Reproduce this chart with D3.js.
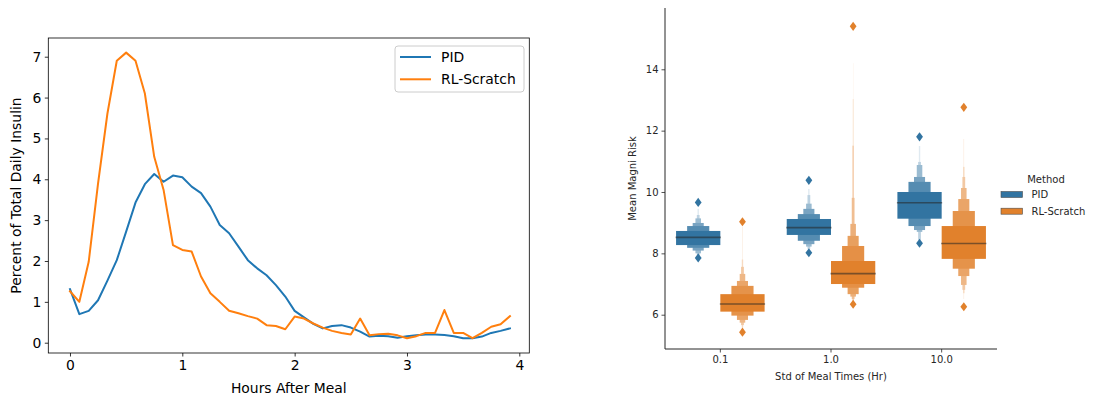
<!DOCTYPE html>
<html lang="en">
<head>
<meta charset="utf-8">
<title>Insulin profile and Magni risk</title>
<script src="https://cdn.jsdelivr.net/npm/d3@7"></script>
<style>
  body { margin: 0; background: #fff; }
  svg { font-family: "DejaVu Sans", sans-serif; }
</style>
</head>
<body>
<div id="bod"></div>
<script>
// ---- left chart data: percent of total daily insulin, every 5 minutes after meal
const minutesAfterMeal = [0, 5, 10, 15, 20, 25, 30, 35, 40, 45, 50, 55,
  60, 65, 70, 75, 80, 85, 90, 95, 100, 105, 110, 115,
  120, 125, 130, 135, 140, 145, 150, 155, 160, 165, 170, 175,
  180, 185, 190, 195, 200, 205, 210, 215, 220, 225, 230, 235]
const pidInsulin = [1.31, 0.70, 0.78, 1.04, 1.52, 2.02, 2.72, 3.43, 3.88, 4.13, 3.94, 4.09,
  4.05, 3.82, 3.66, 3.33, 2.88, 2.68, 2.35, 2.02, 1.82, 1.65, 1.41, 1.13,
  0.78, 0.62, 0.46, 0.35, 0.41, 0.43, 0.37, 0.27, 0.15, 0.17, 0.16, 0.12,
  0.16, 0.18, 0.20, 0.20, 0.19, 0.16, 0.11, 0.11, 0.15, 0.24, 0.29, 0.35]
const rlInsulin = [1.26, 1.00, 1.98, 3.90, 5.61, 6.90, 7.10, 6.90, 6.10, 4.55, 3.74, 2.39,
  2.27, 2.23, 1.62, 1.21, 1.00, 0.78, 0.72, 0.65, 0.59, 0.43, 0.41, 0.33,
  0.64, 0.59, 0.47, 0.37, 0.29, 0.24, 0.20, 0.59, 0.18, 0.21, 0.22, 0.18,
  0.11, 0.16, 0.24, 0.24, 0.80, 0.24, 0.24, 0.11, 0.24, 0.39, 0.45, 0.65]
const leftSeries = ["PID", "RL-Scratch"]
const leftXTicks = [0, 1, 2, 3, 4]
const leftYTicks = [0, 1, 2, 3, 4, 5, 6, 7]

// ---- right chart data: letter-value (boxen) summaries of mean Magni risk
const stdCategories = ["0.1", "1.0", "10.0"]
const methods = ["PID", "RL-Scratch"]
const pidMedians = [8.52, 8.84, 9.65]
const rlMedians = [6.35, 7.34, 8.32]
// letter-value boxes from the innermost outward: [low, high]
const pidLevels = [
  [[8.27, 8.73], [8.18, 8.89], [8.09, 8.99], [8.00, 9.14], [7.93, 9.25], [7.90, 9.45]],
  [[8.60, 9.12], [8.41, 9.28], [8.30, 9.45], [8.22, 9.62], [8.15, 9.90], [8.10, 10.1]],
  [[9.13, 10.00], [8.89, 10.33], [8.76, 10.49], [8.70, 10.88], [8.44, 10.98], [8.40, 11.50]]
]
const rlLevels = [
  [[6.10, 6.67], [5.97, 6.94], [5.83, 7.10], [5.74, 7.33], [5.66, 7.56], [5.58, 7.80], [5.52, 8.87]],
  [[7.00, 7.75], [6.88, 8.24], [6.67, 8.57], [6.59, 8.96], [6.51, 9.81], [6.45, 11.51], [6.42, 13.03], [6.40, 14.20]],
  [[7.82, 8.89], [7.50, 9.38], [7.26, 9.77], [6.97, 10.13], [6.81, 10.49], [6.70, 10.82], [6.51, 11.73]]
]
const pidOutliers = [[7.85, 9.66], [8.02, 10.38], [8.33, 11.80]]
const rlOutliers = [[5.43, 9.03], [6.34, 15.40], [6.26, 12.76]]
const rightYTicks = [6, 8, 10, 12, 14]

const lineColors = ["#1f77b4", "#ff7f0e"]
const boxColors = ["#3274a1", "#e1812c"]

const svg = d3.select("#bod").append("svg")
  .attr("width", 1094)
  .attr("height", 399)

// ================= left chart =================
const L = {left: 48.3, right: 529.3, top: 38, bottom: 353}
const xL = d3.scaleLinear().domain([-0.193, 4.089]).range([L.left, L.right])
const yL = d3.scaleLinear().domain([-0.252, 7.458]).range([L.bottom, L.top])

const gl = svg.append("g")

gl.append("g")
  .attr("transform", "translate(0," + L.bottom + ")")
  .call(d3.axisBottom(xL).tickValues(leftXTicks).tickFormat(d3.format("d")).tickSizeOuter(0).tickSize(3.5).tickPadding(3.5))
  .call(a => a.select(".domain").remove())
  .call(a => a.selectAll("text").attr("font-size", 13.9).attr("fill", "#000").attr("font-family", "DejaVu Sans"))
  .call(a => a.selectAll("line").attr("stroke", "#000").attr("stroke-width", 0.8))

gl.append("g")
  .attr("transform", "translate(" + L.left + ",0)")
  .call(d3.axisLeft(yL).tickValues(leftYTicks).tickFormat(d3.format("d")).tickSizeOuter(0).tickSize(3.5).tickPadding(3.5))
  .call(a => a.select(".domain").remove())
  .call(a => a.selectAll("text").attr("font-size", 13.9).attr("fill", "#000").attr("font-family", "DejaVu Sans"))
  .call(a => a.selectAll("line").attr("stroke", "#000").attr("stroke-width", 0.8))

const line = d3.line()
  .x((d, i) => xL(minutesAfterMeal[i] / 60))
  .y(d => yL(d))

const clip = svg.append("defs").append("clipPath").attr("id", "clipL")
clip.append("rect").attr("x", L.left).attr("y", L.top).attr("width", L.right - L.left).attr("height", L.bottom - L.top)

gl.append("g").attr("clip-path", "url(#clipL)")
  .selectAll("path.series")
  .data([pidInsulin, rlInsulin])
  .join("path")
    .attr("class", "series")
    .attr("d", line)
    .attr("fill", "none")
    .attr("stroke", (d, i) => lineColors[i])
    .attr("stroke-width", 2)
    .attr("stroke-linejoin", "round")
    .attr("stroke-linecap", "square")

// frame
gl.append("rect")
  .attr("x", L.left).attr("y", L.top)
  .attr("width", L.right - L.left).attr("height", L.bottom - L.top)
  .attr("fill", "none").attr("stroke", "#000").attr("stroke-width", 0.8)

// legend
const lg = gl.append("g")
lg.append("rect")
  .attr("x", 395).attr("y", 46).attr("width", 129).attr("height", 46)
  .attr("rx", 3).attr("fill", "#fff").attr("fill-opacity", 0.8)
  .attr("stroke", "#cccccc").attr("stroke-width", 1)
leftSeries.forEach((name, i) => {
  const yy = 57 + i * 22.3
  lg.append("line").attr("x1", 400).attr("x2", 431).attr("y1", yy).attr("y2", yy)
    .attr("stroke", lineColors[i]).attr("stroke-width", 2)
  lg.append("text").attr("x", 441).attr("y", yy + 5).attr("font-size", 13.9).attr("fill", "#000").text(name)
})

gl.append("text")
  .attr("x", (L.left + L.right) / 2).attr("y", 392.5)
  .attr("text-anchor", "middle").attr("font-size", 13.9).attr("fill", "#000")
  .text("Hours After Meal")
gl.append("text")
  .attr("transform", "translate(21," + (L.top + L.bottom) / 2 + ") rotate(-90)")
  .attr("text-anchor", "middle").attr("font-size", 13.9).attr("fill", "#000")
  .text("Percent of Total Daily Insulin")

// ================= right chart =================
const R = {left: 665, right: 997, top: 8, bottom: 349}
const xR = d3.scaleBand().domain(stdCategories).range([R.left, R.right]).padding(0)
const yR = d3.scaleLinear().domain([4.882, 15.998]).range([R.bottom, R.top])
const bw = xR.bandwidth()
const hueOffset = [-0.2 * bw, 0.2 * bw]
const boxWidth = 0.4 * bw
const ink = "#262626"

const gr = svg.append("g")

const diamond = "M0,-4.6L3.4,0L0,4.6L-3.4,0Z"

function drawBoxen(cx, median, levels, outliers, color) {
  const n = levels.length
  const light = d3.interpolateRgb(color, "#ffffff")(0.85)
  const g = gr.append("g")
  // draw from the outermost (thin, light) to the innermost (wide, saturated)
  for (let j = n - 1; j >= 0; j--) {
    const w = boxWidth * Math.pow(0.5, j)
    const c = d3.interpolateRgb(color, light)(n > 1 ? j / (n - 1) : 0)
    g.append("rect")
      .attr("x", cx - w / 2).attr("width", w)
      .attr("y", yR(levels[j][1])).attr("height", yR(levels[j][0]) - yR(levels[j][1]))
      .attr("fill", c)
  }
  g.append("line")
    .attr("x1", cx - boxWidth / 2 - 0.5).attr("x2", cx + boxWidth / 2 + 0.5)
    .attr("y1", yR(median)).attr("y2", yR(median))
    .attr("stroke", ink).attr("stroke-opacity", 0.55).attr("stroke-width", 1.6)
  outliers.forEach(o => {
    g.append("path").attr("d", diamond)
      .attr("transform", "translate(" + cx + "," + yR(o) + ")")
      .attr("fill", color)
  })
}

stdCategories.forEach((cat, k) => {
  const center = xR(cat) + bw / 2
  drawBoxen(center + hueOffset[0], pidMedians[k], pidLevels[k], pidOutliers[k], boxColors[0])
  drawBoxen(center + hueOffset[1], rlMedians[k], rlLevels[k], rlOutliers[k], boxColors[1])
})

gr.append("g")
  .attr("transform", "translate(0," + R.bottom + ")")
  .call(d3.axisBottom(xR).tickSizeOuter(0).tickSize(3.5).tickPadding(3))
  .call(a => a.select(".domain").remove())
  .call(a => a.selectAll("text").attr("font-size", 10).attr("fill", ink).attr("font-family", "DejaVu Sans"))
  .call(a => a.selectAll(".tick line").attr("stroke", ink).attr("stroke-width", 0.8))

gr.append("g")
  .attr("transform", "translate(" + R.left + ",0)")
  .call(d3.axisLeft(yR).tickValues(rightYTicks).tickFormat(d3.format("d")).tickSizeOuter(0).tickSize(3.5).tickPadding(3))
  .call(a => a.select(".domain").remove())
  .call(a => a.selectAll("text").attr("font-size", 10).attr("fill", ink).attr("font-family", "DejaVu Sans"))
  .call(a => a.selectAll(".tick line").attr("stroke", ink).attr("stroke-width", 0.8))

// left and bottom spines only
gr.append("path")
  .attr("d", "M" + R.left + "," + R.top + "V" + R.bottom + "H" + R.right)
  .attr("fill", "none").attr("stroke", ink).attr("stroke-width", 1)

gr.append("text")
  .attr("x", (R.left + R.right) / 2).attr("y", 380)
  .attr("text-anchor", "middle").attr("font-size", 10).attr("fill", ink)
  .text("Std of Meal Times (Hr)")
gr.append("text")
  .attr("transform", "translate(636," + (R.top + R.bottom) / 2 + ") rotate(-90)")
  .attr("text-anchor", "middle").attr("font-size", 10).attr("fill", ink)
  .text("Mean Magni Risk")

// legend
const rg = gr.append("g")
rg.append("text").attr("x", 1046).attr("y", 183).attr("text-anchor", "middle")
  .attr("font-size", 10).attr("fill", ink).text("Method")
methods.forEach((m, i) => {
  const yy = 194.5 + i * 16.7
  rg.append("rect").attr("x", 1001).attr("y", yy - 3).attr("width", 21.5).attr("height", 6)
    .attr("fill", boxColors[i]).attr("stroke", "#4d4d4d").attr("stroke-width", 0.6)
  rg.append("text").attr("x", 1031.5).attr("y", yy + 3.6)
    .attr("font-size", 10).attr("fill", ink).text(m)
})
</script>
</body>
</html>
